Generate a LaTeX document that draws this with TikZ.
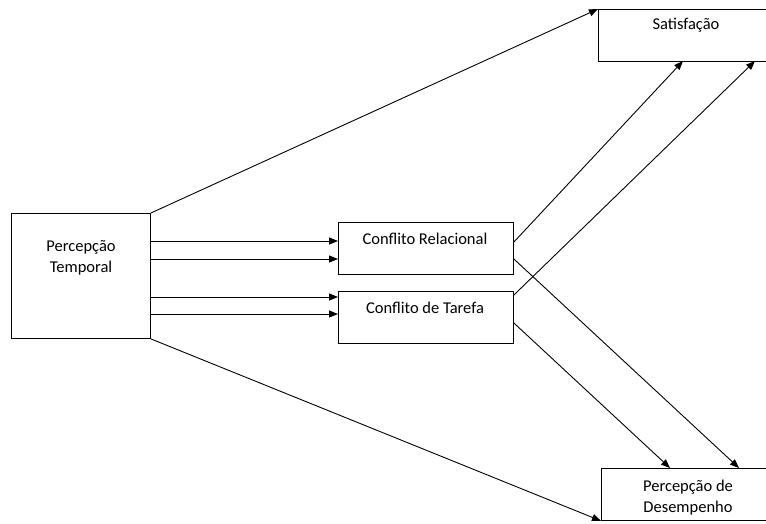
\documentclass[tikz,border=0pt]{standalone}
\usepackage{fontspec}
\setmainfont{Carlito}
\usetikzlibrary{arrows.meta,calc}
\begin{document}
\begin{tikzpicture}[x=1pt,y=-1pt,
  box/.style={draw=black,line width=0.9pt,rectangle,inner sep=0pt,anchor=north west},
  lbl/.style={font=\fontsize{16.5}{21}\selectfont,align=center,inner sep=0pt,anchor=center},
  arr/.style={line width=0.9pt,-{Triangle[length=9pt,width=7pt]}}]
\useasboundingbox (0,0) rectangle (766,523);
% boxes
\node[box,minimum width=139pt,minimum height=125pt] (pt) at (11,213) {};
\node[box,minimum width=175pt,minimum height=52pt] (cr) at (338,222) {};
\node[box,minimum width=175pt,minimum height=52pt] (ct) at (338,291) {};
\node[box,minimum width=175pt,minimum height=52pt] (sa) at (598,9) {};
\node[box,minimum width=175pt,minimum height=52pt] (pd) at (601,468) {};
% texts
\node[lbl] (tpt) at (81,258) {Percepção\\Temporal};
\node[lbl] (tcr) at (425,239) {Conflito Relacional};
\node[lbl] (tct) at (425,308) {Conflito de Tarefa};
\node[lbl] (tsa) at (686,25) {Satisfação};
\node[lbl] (tpd) at (688,498) {Percepção de\\Desempenho};
% arrows from Percepção Temporal
\draw[arr] (pt.north east) -- (sa.north west);
\draw[arr] (pt.south east) -- (pd.south west);
\draw[arr] (pt.east |- 0,241) -- (cr.west |- 0,241);
\draw[arr] (pt.east |- 0,259) -- (cr.west |- 0,259);
\draw[arr] (pt.east |- 0,297) -- (ct.west |- 0,297);
\draw[arr] (pt.east |- 0,314) -- (ct.west |- 0,314);
% arrows from conflicts
\coordinate (sa1) at (683,61);
\coordinate (sa2) at (755,61);
\coordinate (pd1) at (670,468);
\coordinate (pd2) at (739,468);
\draw[arr] (cr.east |- 0,242) -- (sa1);
\draw[arr] (ct.east |- 0,295) -- (sa2);
\draw[arr] (cr.east |- 0,259) -- (pd2);
\draw[arr] (ct.east |- 0,323) -- (pd1);
\end{tikzpicture}
\end{document}
